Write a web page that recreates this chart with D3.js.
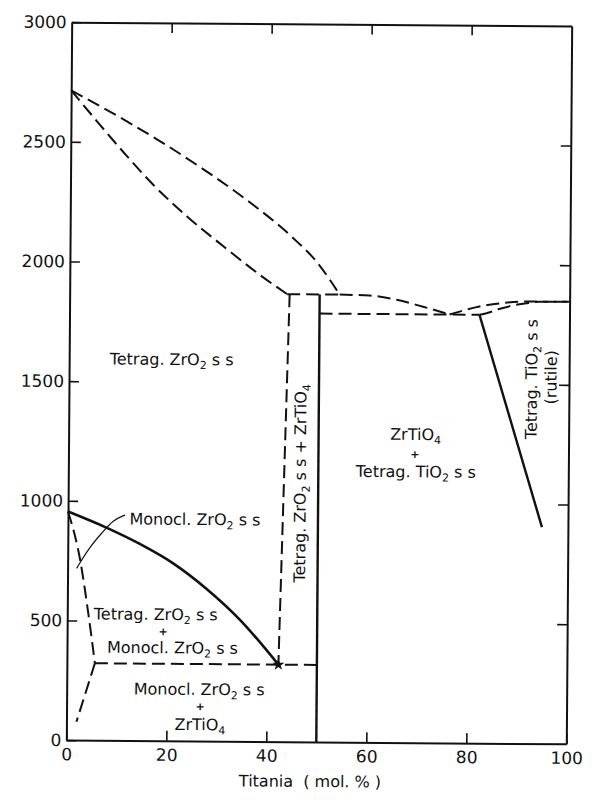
<!DOCTYPE html>
<html><head><meta charset="utf-8">
<script src="https://cdn.jsdelivr.net/npm/d3@7"></script>
<style>
body{margin:0;background:#fff}
svg{display:block}
text{font-family:"DejaVu Sans",sans-serif;fill:#111}
</style>
</head><body><div id="chart"></div>
<script>
// ---- data (x = TiO2 mol.%, y = temperature °C) ----
const xTicks = [0, 20, 40, 60, 80, 100];
const yTicks = [0, 500, 1000, 1500, 2000, 2500, 3000];

const liquidusZrO2 = [[0,2715],[11.1,2588],[17.8,2506],[26.5,2390],[35.3,2262],[44.6,2105],[49.4,2005],[54,1870]];
const solidusZrO2  = [[0,2715],[5.8,2572],[11.2,2443],[16.6,2322],[23.3,2193],[31.3,2058],[38,1950],[43.5,1870]];
const peritecticLine = [[43.5,1870],[54,1870]];
const liquidusZrTiO4 = [[54,1870],[60,1867],[65.4,1850],[70.7,1822],[76,1790]];
const eutecticLine = [[50,1790],[82,1790]];
const liquidusTiO2 = [[76,1790],[81.4,1822],[86.7,1840],[92,1847],[100,1847]];
const solidusTiO2  = [[82,1790],[83.4,1797],[86.1,1816],[88.7,1830],[91.4,1840],[94,1846],[100,1847]];
const rutileSolvus = [[82,1790],[94.8,905]];
const zrtio4Boundary = [[44,1870],[42.3,322]];
const zrtio4Line = [[50,1870],[50,0]];
const eutectoidLine = [[5.6,322],[50,322]];
const monoTetraSolvus = [[0,955],[7.8,888],[14.4,822],[21.1,742],[27.9,635],[34.6,507],[42.3,322]];
const tetraBoundary = [[0,955],[2.5,753],[4.2,531],[5.6,322]];
const monoBoundary = [[5.6,322],[2,77]];
const leaderLine = [[11.4,942],[9,921],[7,871],[4.4,809],[1.8,718]];
const invariantPoint = [[42.3,322]];

const labels = [
  {t:"Tetrag. ZrO_2 s s", x:20.5, y:1571},
  {t:"Monocl. ZrO_2 s s", x:25.4, y:903},
  {t:"Tetrag. ZrO_2 s s", x:17.7, y:505},
  {t:"+", x:19.2, y:441, small:true},
  {t:"Monocl. ZrO_2 s s", x:21.1, y:366},
  {t:"Monocl. ZrO_2 s s", x:26.5, y:193},
  {t:"+", x:26.7, y:129, small:true},
  {t:"ZrTiO_4", x:26.7, y:46},
  {t:"ZrTiO_4", x:69.4, y:1265},
  {t:"+", x:69.3, y:1189, small:true},
  {t:"Tetrag. TiO_2 s s", x:69.5, y:1109},
  {t:"Tetrag. ZrO_2 s s + ZrTiO_4", x:47.5, y:1080, rot:true},
  {t:"Tetrag. TiO_2 s s", x:93.6, y:1523, rot:true},
  {t:"(rutile)", x:97.5, y:1531, rot:true}
];
const xTitle = "Titania  ( mol. % )";

// ---- drawing ----
const W = 599, H = 800, ink = "#111";
const svg = d3.select("#chart").append("svg").attr("width", W).attr("height", H);
const g = svg.append("g").attr("transform", "rotate(0.43,319,383)");

const x = d3.scaleLinear().domain([0,100]).range([69,569]);
const y = d3.scaleLinear().domain([0,3000]).range([742,24]);

function styleAxis(sel){
  sel.select(".domain").attr("stroke", ink).attr("stroke-width", 2);
  sel.selectAll(".tick line").attr("stroke", ink).attr("stroke-width", 1.6);
  sel.selectAll(".tick text").attr("fill", ink).style("font-size","17px")
     .style("font-family",'"DejaVu Sans",sans-serif');
}
g.append("g").attr("transform",`translate(0,${y(0)})`)
  .call(d3.axisBottom(x).tickValues(xTicks).tickSizeInner(-10).tickSizeOuter(0).tickPadding(8).tickFormat(d3.format("d")))
  .call(styleAxis);
g.append("g").attr("transform",`translate(${x(0)},0)`)
  .call(d3.axisLeft(y).tickValues(yTicks).tickSizeInner(-10).tickSizeOuter(0).tickPadding(5).tickFormat(d3.format("d")))
  .call(styleAxis);
g.append("g").attr("transform",`translate(0,${y(3000)})`)
  .call(d3.axisTop(x).tickValues(xTicks.slice(1,-1)).tickSizeInner(-10).tickSizeOuter(0).tickFormat(""))
  .call(styleAxis);
g.append("g").attr("transform",`translate(${x(100)},0)`)
  .call(d3.axisRight(y).tickValues(yTicks.slice(1,-1)).tickSizeInner(-10).tickSizeOuter(0).tickFormat(""))
  .call(styleAxis);

const curve = d3.line().x(d=>x(d[0])).y(d=>y(d[1])).curve(d3.curveMonotoneX);
const freeCurve = d3.line().x(d=>x(d[0])).y(d=>y(d[1])).curve(d3.curveBasis);
const straight = d3.line().x(d=>x(d[0])).y(d=>y(d[1]));

function draw(data, gen, dashed, width){
  g.append("path").datum(data).attr("d", gen).attr("fill","none")
   .attr("stroke", ink).attr("stroke-width", width)
   .attr("stroke-dasharray", dashed ? "13,6" : null)
   .attr("stroke-linecap","butt");
}
draw(liquidusZrO2, curve, true, 2);
draw(solidusZrO2, curve, true, 2);
draw(peritecticLine, straight, true, 2);
draw(liquidusZrTiO4, curve, true, 2);
draw(eutecticLine, straight, true, 2);
draw(liquidusTiO2, curve, true, 2);
draw(solidusTiO2, curve, true, 2);
draw(zrtio4Boundary, straight, true, 2);
draw(eutectoidLine, straight, true, 2);
draw(tetraBoundary, curve, true, 2);
draw(monoBoundary, straight, true, 2);
draw(rutileSolvus, straight, false, 2.4);
draw(zrtio4Line, straight, false, 2.4);
draw(monoTetraSolvus, curve, false, 2.6);
draw(leaderLine, freeCurve, false, 1.2);

g.selectAll(".pt").data(invariantPoint).join("path")
  .attr("transform", d=>`translate(${x(d[0])},${y(d[1])})`)
  .attr("d", d3.symbol(d3.symbolStar, 45)).attr("fill", ink);

function addText(sel, str){
  const parts = str.split(/_(\d)/);
  parts.forEach((p,i)=>{
    if(!p) return;
    if(i % 2 === 1){
      sel.append("tspan").attr("dy", 4).style("font-size","11px").text(p);
    } else {
      const ts = sel.append("tspan").text(p);
      if(i>0) ts.attr("dy", -4);
    }
  });
}
labels.forEach(l=>{
  const t = g.append("text").style("font-size", l.small ? "11px" : "16px")
    .style("font-weight", l.small ? "bold" : null).attr("text-anchor","middle");
  if(l.rot){
    t.attr("transform", `translate(${x(l.x)},${y(l.y)}) rotate(-90)`);
  } else {
    t.attr("x", x(l.x)).attr("y", y(l.y));
  }
  addText(t, l.t);
});

g.append("text").attr("x", 313).attr("y", 787).attr("text-anchor","middle")
  .style("font-size","16px").attr("xml:space","preserve").text(xTitle);
</script>
</body></html>
